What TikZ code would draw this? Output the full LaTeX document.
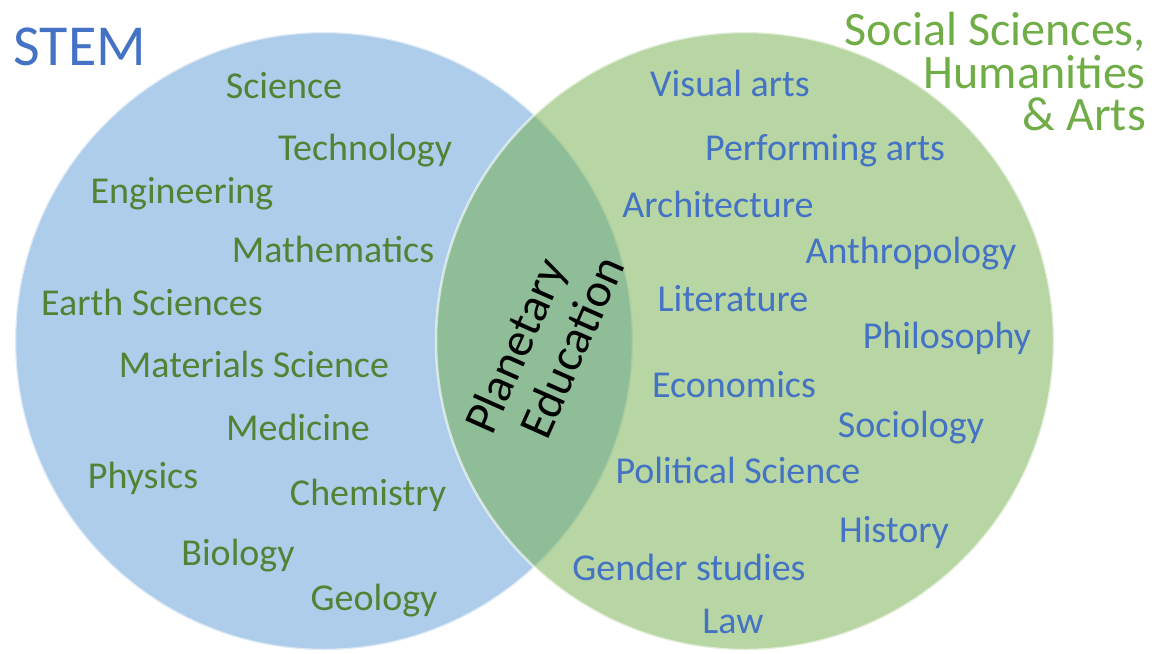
\documentclass[tikz,border=0pt]{standalone}
\usepackage{fontspec}
\setmainfont{Carlito}
\usepackage{tikz}
\definecolor{stemblue}{HTML}{5B9BD5}
\definecolor{artsgreen}{HTML}{70AD47}
\definecolor{stemtext}{HTML}{548235}
\definecolor{artstext}{HTML}{4472C4}
\tikzset{
	field/.style={fill opacity=0.5, draw=white, draw opacity=0.6, line width=2.5pt},
	stemfield/.style={font=\fontsize{38}{44}\selectfont, text=stemtext, inner sep=0pt, text height=26pt, text depth=2pt},
	artsfield/.style={font=\fontsize{38}{44}\selectfont, text=artstext, inner sep=0pt, text height=26pt, text depth=2pt},
	corefield/.style={font=\fontsize{48}{56}\selectfont, inner sep=0pt, anchor=base west, rotate=66},
}

\begin{document}
\begin{tikzpicture}[x=1pt, y=-1pt]
	\useasboundingbox (0,0) rectangle (1156,653);
	\coordinate (stem) at (324,341);
	\coordinate (arts) at (745,341);

	\fill[stemblue, field] (stem) circle[radius=309];
	\fill[artsgreen, field] (arts) circle[radius=309];

	\node[font=\fontsize{58}{64}\selectfont, text=artstext, anchor=west] (stemtitle) at (10,47) {STEM};
	\node[font=\fontsize{48}{42.5}\selectfont, text=artsgreen, align=right, anchor=north east, inner sep=0pt] (artstitle) at (1146,12) {Social Sciences,\\Humanities\\\& Arts};

	\node[stemfield] (science) at (284,86) {Science};
	\node[stemfield] (technology) at (365,148) {Technology};
	\node[stemfield] (engineering) at (182,191) {Engineering};
	\node[stemfield] (mathematics) at (333,250) {Mathematics};
	\node[stemfield] (earth) at (152,303) {Earth Sciences};
	\node[stemfield] (materials) at (254,365) {Materials Science};
	\node[stemfield] (medicine) at (298,428) {Medicine};
	\node[stemfield] (physics) at (143,476) {Physics};
	\node[stemfield] (chemistry) at (368,493) {Chemistry};
	\node[stemfield] (biology) at (238,553) {Biology};
	\node[stemfield] (geology) at (374,598) {Geology};

	\node[artsfield] (visual) at (730,84) {Visual arts};
	\node[artsfield] (performing) at (825,148) {Performing arts};
	\node[artsfield] (architecture) at (718,205) {Architecture};
	\node[artsfield] (anthropology) at (911,251) {Anthropology};
	\node[artsfield] (literature) at (733,299) {Literature};
	\node[artsfield] (philosophy) at (947,336) {Philosophy};
	\node[artsfield] (economics) at (734,385) {Economics};
	\node[artsfield] (sociology) at (911,425) {Sociology};
	\node[artsfield] (political) at (738,471) {Political Science};
	\node[artsfield] (history) at (894,530) {History};
	\node[artsfield] (gender) at (689,568) {Gender studies};
	\node[artsfield] (law) at (733,621) {Law};

	\node[corefield] (planetary) at (492,437) {Planetary};
	\node[corefield] (education) at (547,442) {Education};
\end{tikzpicture}
\end{document}
